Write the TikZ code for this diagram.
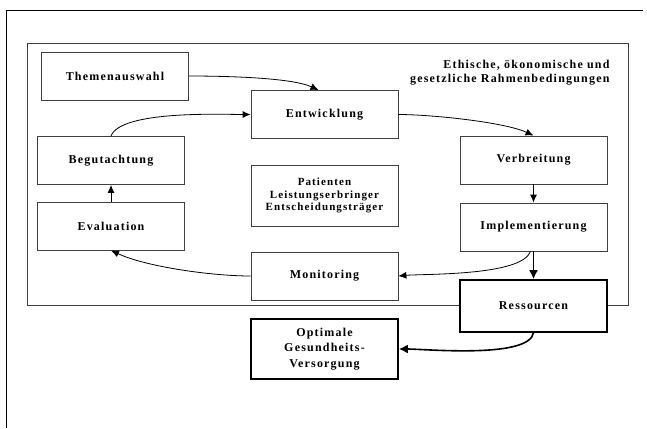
\documentclass[tikz,border=0pt]{standalone}
\usepackage{fontspec}
\setmainfont{Liberation Serif}[LetterSpace=10]
\usetikzlibrary{arrows.meta}

\begin{document}
\begin{tikzpicture}[x=1pt,y=-1pt,>={Latex[length=8pt,width=7pt]},
    every node/.style={font=\bfseries\fontsize{12}{14}\selectfont,align=center},
    stage/.style={rectangle,draw=black!75,line width=0.8pt,fill=white,minimum width=147pt,minimum height=48pt,inner sep=0pt},
    goal/.style={stage,draw=black,line width=1.6pt},
    flow/.style={->,line width=0.8pt},
    mainflow/.style={-{Latex[length=9pt,width=9pt]},line width=1.6pt}]
  \useasboundingbox (0,0) rectangle (647,428);
  % outer frame, only top and left edge shown
  \draw[line width=0.8pt] (6,428) -- (6,10) -- (643,10);
  \draw[draw=black!75,line width=0.8pt] (27,43) rectangle (628,305);
  \node[anchor=north east,align=right,font=\bfseries\fontsize{12}{14}\selectfont] (frame) at (613,57)
    {Ethische, ökonomische und\\gesetzliche Rahmenbedingungen};
  \node[stage] (thema) at (115,76) {Themenauswahl};
  \node[stage] (entw) at (324.5,114.5) {Entwicklung};
  \node[stage] (begut) at (111,160.5) {Begutachtung};
  \node[stage] (verbr) at (533.5,160) {Verbreitung};
  \node[stage,minimum height=61pt,font=\bfseries\fontsize{11}{12.5}\selectfont] (akteure) at (324.5,195.5)
    {Patienten\\Leistungserbringer\\Entscheidungsträger};
  \node[stage] (eval) at (111,226) {Evaluation};
  \node[stage] (impl) at (533.5,227) {Implementierung};
  \node[stage] (monit) at (324.5,276) {Monitoring};
  \node[goal,minimum height=52pt] (ress) at (533.5,306) {Ressourcen};
  \node[goal,minimum height=60pt,font=\bfseries\fontsize{12}{15.5}\selectfont] (opt) at (324.5,349)
    {Optimale\\Gesundheits-\\Versorgung};
  % cycle
  \draw[flow] (thema.east) to[out=0,in=155,looseness=0.6] ([xshift=-6pt]entw.north);
  \draw[flow] (begut.north) to[out=70,in=180,looseness=0.5] (entw.west);
  \draw[flow] (entw.east) to[out=0,in=155,looseness=0.6] (verbr.north);
  \draw[flow] (verbr) -- (impl);
  \draw[flow] ([xshift=-3pt]impl.south) to[out=-110,in=5,looseness=0.5] (monit.east);
  \draw[flow] (monit.west) to[out=180,in=-25,looseness=0.7] (eval.south);
  \draw[flow] (eval) -- (begut);
  % resources
  \draw[mainflow] (impl) -- (ress);
  \draw[mainflow] (ress.south) to[out=-100,in=0,looseness=0.5] (opt.east);
\end{tikzpicture}
\end{document}
